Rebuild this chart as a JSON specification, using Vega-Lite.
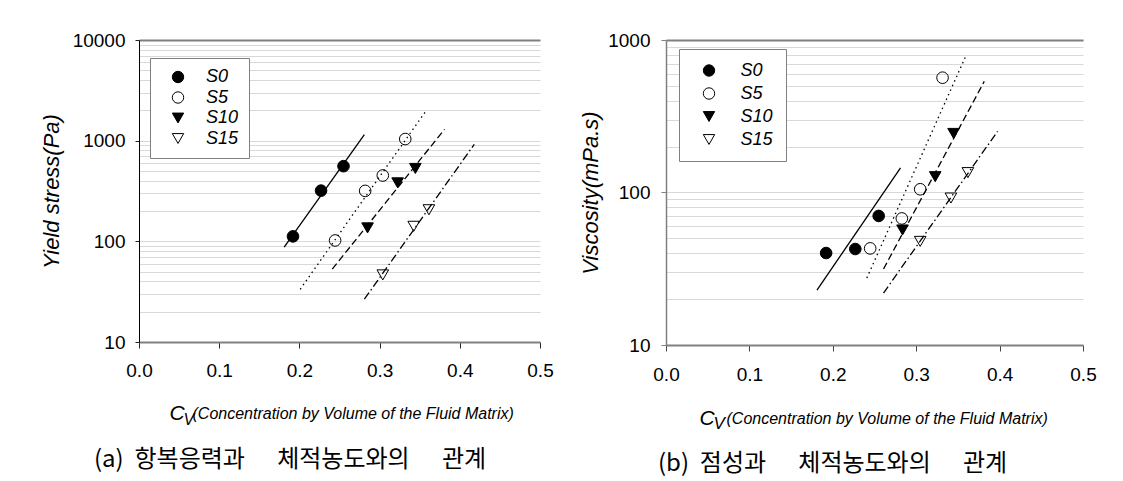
{
  "$schema": "https://vega.github.io/schema/vega-lite/v6.json",
  "background": "white",
  "padding": {"left": 40, "top": 31, "right": 5, "bottom": 5},
  "spacing": 25,
  "config": {
    "view": {"stroke": null},
    "axis": {"labelFont": "Liberation Sans", "titleFont": "Liberation Sans", "labelColor": "black", "titleColor": "black", "labelFlush": false, "labelOverlap": false, "titleFontWeight": "normal", "grid": false},
    "legend": {"labelFont": "Liberation Sans", "labelColor": "black", "labelFontWeight": "normal"}
  },
  "resolve": {"scale": {"shape": "independent", "fill": "independent", "stroke": "independent"}},
  "datasets": {
    "yieldPts": [
      {"s": "S0", "cv": 0.192, "v": 112}, {"s": "S0", "cv": 0.227, "v": 319}, {"s": "S0", "cv": 0.255, "v": 558},
      {"s": "S5", "cv": 0.2445, "v": 102}, {"s": "S5", "cv": 0.282, "v": 317}, {"s": "S5", "cv": 0.304, "v": 451}, {"s": "S5", "cv": 0.332, "v": 1038},
      {"s": "S10", "cv": 0.285, "v": 136}, {"s": "S10", "cv": 0.3225, "v": 381}, {"s": "S10", "cv": 0.3446, "v": 530},
      {"s": "S15", "cv": 0.304, "v": 46.4}, {"s": "S15", "cv": 0.3425, "v": 141}, {"s": "S15", "cv": 0.3615, "v": 206}
    ],
    "yieldLines": [
      {"s": "S0", "cv": 0.181, "v": 87.7}, {"s": "S0", "cv": 0.281, "v": 1148},
      {"s": "S5", "cv": 0.201, "v": 33.4}, {"s": "S5", "cv": 0.359, "v": 2037},
      {"s": "S10", "cv": 0.241, "v": 53}, {"s": "S10", "cv": 0.381, "v": 1297},
      {"s": "S15", "cv": 0.281, "v": 26.6}, {"s": "S15", "cv": 0.418, "v": 918}
    ],
    "viscPts": [
      {"s": "S0", "cv": 0.192, "v": 40.1}, {"s": "S0", "cv": 0.227, "v": 42.6}, {"s": "S0", "cv": 0.255, "v": 70.2},
      {"s": "S5", "cv": 0.2448, "v": 43.0}, {"s": "S5", "cv": 0.2828, "v": 67.6}, {"s": "S5", "cv": 0.3048, "v": 105}, {"s": "S5", "cv": 0.3316, "v": 566},
      {"s": "S10", "cv": 0.2836, "v": 56.8}, {"s": "S10", "cv": 0.3228, "v": 127}, {"s": "S10", "cv": 0.3448, "v": 244},
      {"s": "S15", "cv": 0.3048, "v": 47.8}, {"s": "S15", "cv": 0.3416, "v": 92}, {"s": "S15", "cv": 0.362, "v": 135}
    ],
    "viscLines": [
      {"s": "S0", "cv": 0.181, "v": 22.9}, {"s": "S0", "cv": 0.2812, "v": 145},
      {"s": "S5", "cv": 0.2408, "v": 27.5}, {"s": "S5", "cv": 0.36, "v": 797},
      {"s": "S10", "cv": 0.2608, "v": 31.5}, {"s": "S10", "cv": 0.3816, "v": 535},
      {"s": "S15", "cv": 0.2608, "v": 21.9}, {"s": "S15", "cv": 0.3976, "v": 252}
    ]
  },
  "hconcat": [
    {
      "width": 401, "height": 302,
      "title": {"text": "(a)\u00a0\u00a0항복응력과\u00a0\u00a0\u00a0\u00a0\u00a0\u00a0체적농도와의\u00a0\u00a0\u00a0\u00a0\u00a0\u00a0관계", "orient": "bottom", "anchor": "start", "frame": "group", "dx": -45, "offset": 21, "font": "Noto Sans CJK KR", "fontSize": 24, "fontWeight": "normal", "color": "black"},
      "layer": [
        {
          "data": {"name": "yieldLines"}, "transform": [{"filter": "datum.s === 'S0'"}],
          "mark": {"type": "line", "color": "black", "strokeWidth": 1.3},
          "encoding": {
            "x": {"field": "cv", "type": "quantitative", "scale": {"domain": [0, 0.5], "nice": false, "zero": false},
                  "axis": {"orient": "bottom", "values": [0, 0.1, 0.2, 0.3, 0.4, 0.5], "format": ".1f", "labelFontSize": 19, "labelPadding": 13, "tickSize": 6, "tickColor": "#222", "domainColor": "#808080", "domainWidth": 2, "title": "(Concentration by Volume of the Fluid Matrix)", "titleFontSize": 16, "titleFontStyle": "italic", "titleX": 53, "titleY": 76, "titleAlign": "left", "titleBaseline": "alphabetic", "zindex": 1}},
            "y": {"field": "v", "type": "quantitative", "scale": {"type": "log", "domain": [10, 10000], "nice": false},
                  "axis": {"orient": "left", "values": [10, 20, 30, 40, 50, 60, 70, 80, 90, 100, 200, 300, 400, 500, 600, 700, 800, 900, 1000, 2000, 3000, 4000, 5000, 6000, 7000, 8000, 9000, 10000], "grid": true, "gridColor": "#d9d9d9", "gridWidth": 1, "labels": false, "ticks": false, "domain": false, "title": null, "zindex": 0}}
          }
        },
        {
          "data": {"name": "yieldLines"}, "transform": [{"filter": "datum.s === 'S5'"}],
          "mark": {"type": "line", "color": "black", "strokeWidth": 1.3, "strokeDash": [1.5, 3.5]},
          "encoding": {
            "x": {"field": "cv", "type": "quantitative", "scale": {"domain": [0, 0.5], "nice": false, "zero": false},
                  "axis": {"orient": "bottom", "labels": false, "ticks": false, "domain": false, "grid": false, "title": "C", "titleFontSize": 21, "titleFontStyle": "italic", "titleX": 30, "titleY": 77, "titleAlign": "left", "titleBaseline": "alphabetic"}},
            "y": {"field": "v", "type": "quantitative", "scale": {"type": "log", "domain": [10, 10000], "nice": false}, "axis": null}
          }
        },
        {
          "data": {"name": "yieldLines"}, "transform": [{"filter": "datum.s === 'S10'"}],
          "mark": {"type": "line", "color": "black", "strokeWidth": 1.3, "strokeDash": [7, 3.5]},
          "encoding": {
            "x": {"field": "cv", "type": "quantitative", "scale": {"domain": [0, 0.5], "nice": false, "zero": false},
                  "axis": {"orient": "bottom", "labels": false, "ticks": false, "domain": false, "grid": false, "title": "V", "titleFontSize": 16, "titleFontStyle": "italic", "titleX": 44, "titleY": 82, "titleAlign": "left", "titleBaseline": "alphabetic"}},
            "y": {"field": "v", "type": "quantitative", "scale": {"type": "log", "domain": [10, 10000], "nice": false}, "axis": null}
          }
        },
        {
          "data": {"name": "yieldLines"}, "transform": [{"filter": "datum.s === 'S15'"}],
          "mark": {"type": "line", "color": "black", "strokeWidth": 1.3, "strokeDash": [8, 3, 1.5, 3]},
          "encoding": {
            "x": {"field": "cv", "type": "quantitative", "scale": {"domain": [0, 0.5], "nice": false, "zero": false},
                  "axis": {"orient": "top", "labels": false, "ticks": false, "domain": true, "domainColor": "#808080", "domainWidth": 2, "grid": false, "title": null}},
            "y": {"field": "v", "type": "quantitative", "scale": {"type": "log", "domain": [10, 10000], "nice": false}, "axis": null}
          }
        },
        {
          "data": {"name": "yieldPts"},
          "mark": {"type": "point", "filled": true, "strokeWidth": 1, "size": 135, "opacity": 1},
          "encoding": {
            "x": {"field": "cv", "type": "quantitative", "scale": {"domain": [0, 0.5], "nice": false, "zero": false}, "axis": null},
            "y": {"field": "v", "type": "quantitative", "scale": {"type": "log", "domain": [10, 10000], "nice": false},
                  "axis": {"orient": "left", "values": [10, 100, 1000, 10000], "format": "d", "labelFontSize": 19, "labelPadding": 10, "tickSize": 4, "tickColor": "#222", "domainColor": "black", "domainWidth": 1, "grid": false, "title": "Yield stress(Pa)", "titleFontSize": 22, "titleFontStyle": "italic", "titlePadding": 9, "zindex": 1}},
            "shape": {"field": "s", "type": "nominal", "scale": {"domain": ["S0", "S5", "S10", "S15"], "range": ["circle", "circle", "triangle-down", "triangle-down"]},
                      "legend": {"title": null, "orient": "none", "legendX": 11, "legendY": 18, "direction": "vertical", "fillColor": "white", "strokeColor": "#808080", "padding": 10, "symbolOffset": 9, "labelOffset": 19, "rowPadding": 2.5, "labelFontSize": 18, "labelFontStyle": "italic", "labelFontWeight": "normal", "symbolSize": 130, "symbolStrokeWidth": 1}},
            "fill": {"field": "s", "type": "nominal", "scale": {"domain": ["S0", "S5", "S10", "S15"], "range": ["black", "transparent", "black", "transparent"]},
                     "legend": {"title": null, "orient": "none", "legendX": 11, "legendY": 18, "direction": "vertical", "fillColor": "white", "strokeColor": "#808080", "padding": 10, "symbolOffset": 9, "labelOffset": 19, "rowPadding": 2.5, "labelFontSize": 18, "labelFontStyle": "italic", "labelFontWeight": "normal", "symbolSize": 130, "symbolStrokeWidth": 1}},
            "stroke": {"field": "s", "type": "nominal", "scale": {"domain": ["S0", "S5", "S10", "S15"], "range": ["black", "black", "black", "black"]},
                     "legend": {"title": null, "orient": "none", "legendX": 11, "legendY": 18, "direction": "vertical", "fillColor": "white", "strokeColor": "#808080", "padding": 10, "symbolOffset": 9, "labelOffset": 19, "rowPadding": 2.5, "labelFontSize": 18, "labelFontStyle": "italic", "labelFontWeight": "normal", "symbolSize": 130, "symbolStrokeWidth": 1}}
          }
        }
      ],
      "resolve": {"axis": {"x": "independent", "y": "independent"}}
    },
    {
      "width": 417, "height": 305,
      "title": {"text": "(b)\u00a0\u00a0점성과\u00a0\u00a0\u00a0\u00a0\u00a0\u00a0체적농도와의\u00a0\u00a0\u00a0\u00a0\u00a0\u00a0관계", "orient": "bottom", "anchor": "start", "frame": "group", "dx": -8, "offset": 21, "font": "Noto Sans CJK KR", "fontSize": 24, "fontWeight": "normal", "color": "black"},
      "layer": [
        {
          "data": {"name": "viscLines"}, "transform": [{"filter": "datum.s === 'S0'"}],
          "mark": {"type": "line", "color": "black", "strokeWidth": 1.3},
          "encoding": {
            "x": {"field": "cv", "type": "quantitative", "scale": {"domain": [0, 0.5], "nice": false, "zero": false},
                  "axis": {"orient": "bottom", "values": [0, 0.1, 0.2, 0.3, 0.4, 0.5], "format": ".1f", "labelFontSize": 19, "labelPadding": 14, "tickSize": 6, "tickColor": "#444", "domainColor": "#808080", "domainWidth": 2, "title": "(Concentration by Volume of the Fluid Matrix)", "titleFontSize": 16, "titleFontStyle": "italic", "titleX": 60, "titleY": 78, "titleAlign": "left", "titleBaseline": "alphabetic", "zindex": 1}},
            "y": {"field": "v", "type": "quantitative", "scale": {"type": "log", "domain": [10, 1000], "nice": false},
                  "axis": {"orient": "left", "values": [10, 20, 30, 40, 50, 60, 70, 80, 90, 100, 200, 300, 400, 500, 600, 700, 800, 900, 1000], "grid": true, "gridColor": "#d9d9d9", "gridWidth": 1, "labels": false, "ticks": false, "domain": false, "title": null, "zindex": 0}}
          }
        },
        {
          "data": {"name": "viscLines"}, "transform": [{"filter": "datum.s === 'S5'"}],
          "mark": {"type": "line", "color": "black", "strokeWidth": 1.3, "strokeDash": [1.5, 3.5]},
          "encoding": {
            "x": {"field": "cv", "type": "quantitative", "scale": {"domain": [0, 0.5], "nice": false, "zero": false},
                  "axis": {"orient": "bottom", "labels": false, "ticks": false, "domain": false, "grid": false, "title": "C", "titleFontSize": 21, "titleFontStyle": "italic", "titleX": 33, "titleY": 79, "titleAlign": "left", "titleBaseline": "alphabetic"}},
            "y": {"field": "v", "type": "quantitative", "scale": {"type": "log", "domain": [10, 1000], "nice": false}, "axis": null}
          }
        },
        {
          "data": {"name": "viscLines"}, "transform": [{"filter": "datum.s === 'S10'"}],
          "mark": {"type": "line", "color": "black", "strokeWidth": 1.3, "strokeDash": [7, 3.5]},
          "encoding": {
            "x": {"field": "cv", "type": "quantitative", "scale": {"domain": [0, 0.5], "nice": false, "zero": false},
                  "axis": {"orient": "bottom", "labels": false, "ticks": false, "domain": false, "grid": false, "title": "V", "titleFontSize": 17, "titleFontStyle": "italic", "titleX": 47, "titleY": 83, "titleAlign": "left", "titleBaseline": "alphabetic"}},
            "y": {"field": "v", "type": "quantitative", "scale": {"type": "log", "domain": [10, 1000], "nice": false}, "axis": null}
          }
        },
        {
          "data": {"name": "viscLines"}, "transform": [{"filter": "datum.s === 'S15'"}],
          "mark": {"type": "line", "color": "black", "strokeWidth": 1.3, "strokeDash": [8, 3, 1.5, 3]},
          "encoding": {
            "x": {"field": "cv", "type": "quantitative", "scale": {"domain": [0, 0.5], "nice": false, "zero": false},
                  "axis": {"orient": "top", "labels": false, "ticks": false, "domain": true, "domainColor": "#808080", "domainWidth": 2, "grid": false, "title": null}},
            "y": {"field": "v", "type": "quantitative", "scale": {"type": "log", "domain": [10, 1000], "nice": false}, "axis": null}
          }
        },
        {
          "data": {"name": "viscPts"},
          "mark": {"type": "point", "filled": true, "strokeWidth": 1, "size": 135, "opacity": 1},
          "encoding": {
            "x": {"field": "cv", "type": "quantitative", "scale": {"domain": [0, 0.5], "nice": false, "zero": false}, "axis": null},
            "y": {"field": "v", "type": "quantitative", "scale": {"type": "log", "domain": [10, 1000], "nice": false},
                  "axis": {"orient": "left", "values": [10, 100, 1000], "format": "d", "labelFontSize": 19, "labelPadding": 11, "tickSize": 5, "tickColor": "#808080", "domainColor": "#808080", "domainWidth": 1.5, "grid": false, "title": "Viscosity(mPa.s)", "titleFontSize": 22, "titleFontStyle": "italic", "titlePadding": 5, "zindex": 1}},
            "shape": {"field": "s", "type": "nominal", "scale": {"domain": ["S0", "S5", "S10", "S15"], "range": ["circle", "circle", "triangle-down", "triangle-down"]},
                      "legend": {"title": null, "orient": "none", "legendX": 13, "legendY": 9, "direction": "vertical", "fillColor": "white", "strokeColor": "#808080", "padding": 12.5, "symbolOffset": 8.5, "labelOffset": 22.5, "rowPadding": 5, "labelFontSize": 18, "labelFontStyle": "italic", "labelFontWeight": "normal", "symbolSize": 130, "symbolStrokeWidth": 1}},
            "fill": {"field": "s", "type": "nominal", "scale": {"domain": ["S0", "S5", "S10", "S15"], "range": ["black", "transparent", "black", "transparent"]},
                     "legend": {"title": null, "orient": "none", "legendX": 13, "legendY": 9, "direction": "vertical", "fillColor": "white", "strokeColor": "#808080", "padding": 12.5, "symbolOffset": 8.5, "labelOffset": 22.5, "rowPadding": 5, "labelFontSize": 18, "labelFontStyle": "italic", "labelFontWeight": "normal", "symbolSize": 130, "symbolStrokeWidth": 1}},
            "stroke": {"field": "s", "type": "nominal", "scale": {"domain": ["S0", "S5", "S10", "S15"], "range": ["black", "black", "black", "black"]},
                     "legend": {"title": null, "orient": "none", "legendX": 13, "legendY": 9, "direction": "vertical", "fillColor": "white", "strokeColor": "#808080", "padding": 12.5, "symbolOffset": 8.5, "labelOffset": 22.5, "rowPadding": 5, "labelFontSize": 18, "labelFontStyle": "italic", "labelFontWeight": "normal", "symbolSize": 130, "symbolStrokeWidth": 1}}
          }
        }
      ],
      "resolve": {"axis": {"x": "independent", "y": "independent"}}
    }
  ]
}
